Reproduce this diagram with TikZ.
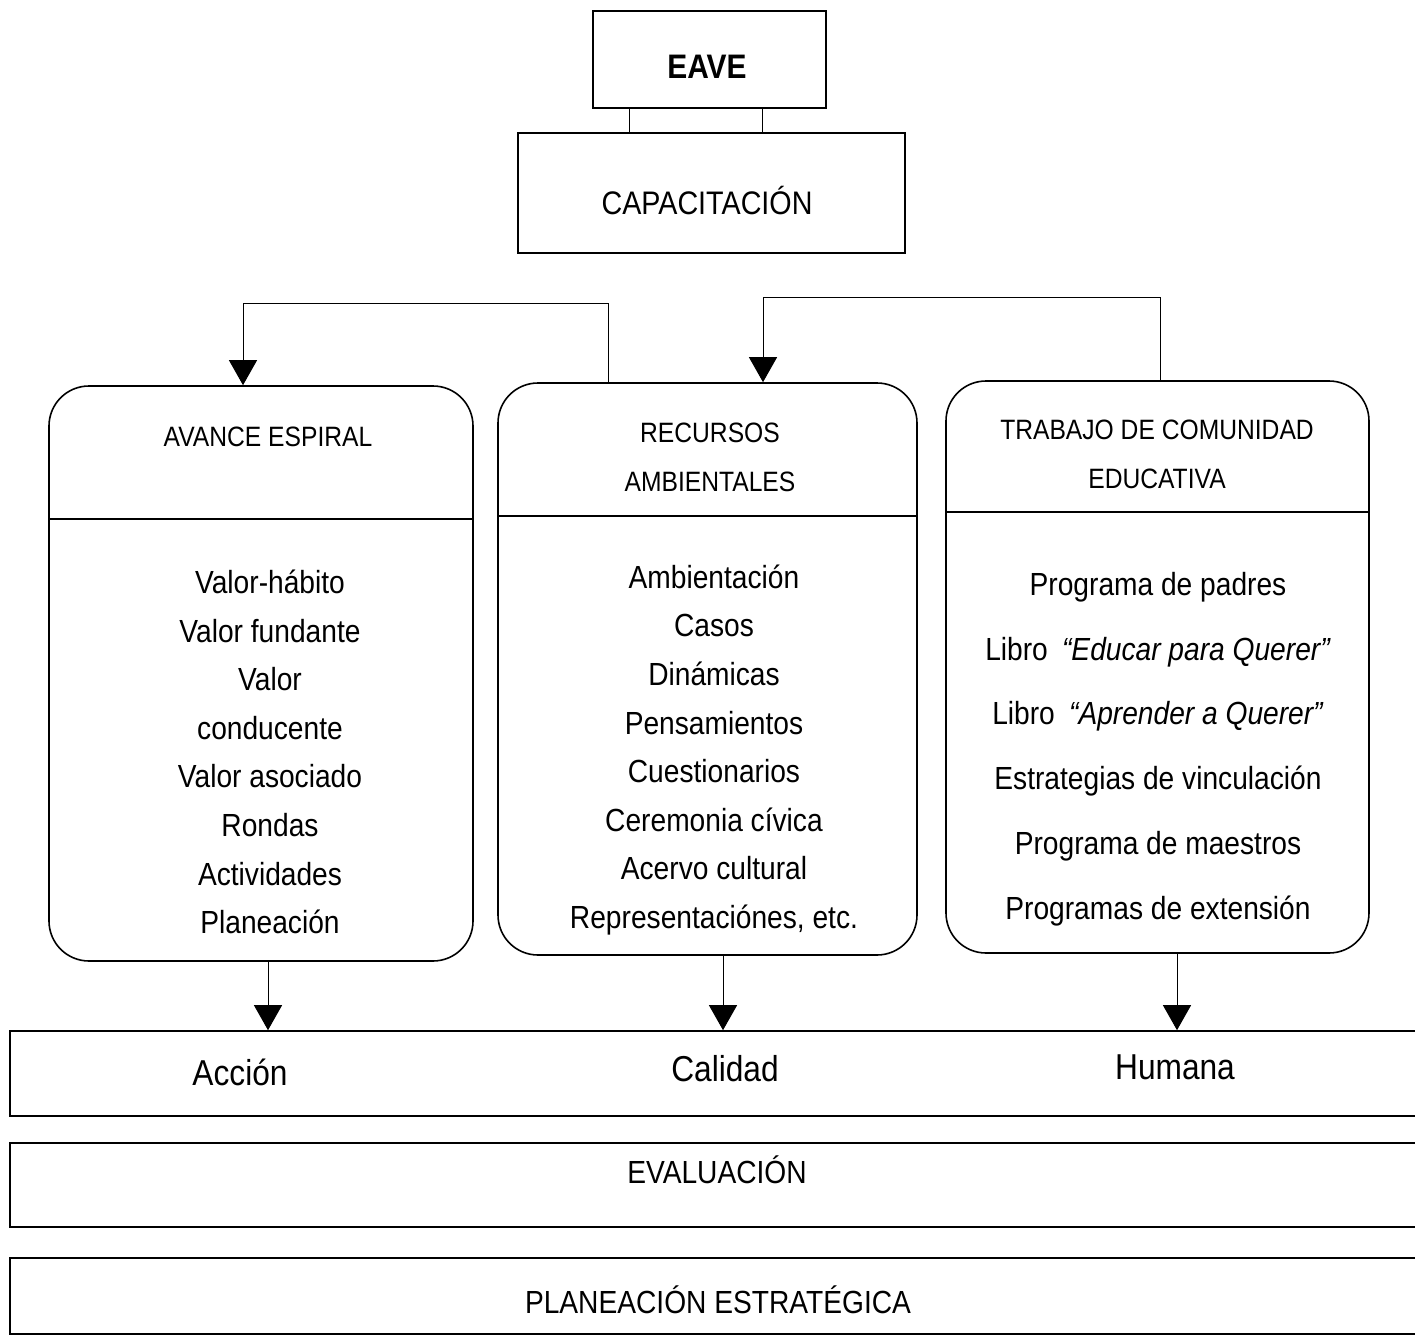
\documentclass[tikz,border=0pt]{standalone}
\usepackage{fontspec}
\setmainfont{Liberation Sans}[FakeStretch=0.88]
\usetikzlibrary{calc,arrows.meta}
\newcommand{\titlefont}{\fontsize{14}{24.5}\selectfont}
\newcommand{\itemfont}{\fontsize{16}{24.3}\selectfont}
\newcommand{\barfont}{\fontsize{18}{20}\selectfont}
\tikzset{
	sqbox/.style={draw, line width=0.6pt, inner sep=0pt},
	rbox/.style={draw, line width=0.8pt, rounded corners=20pt, inner sep=0pt},
	barbox/.style={draw, line width=0.8pt, inner sep=0pt, minimum width=710pt},
	txt/.style={inner sep=1pt, align=center},
	flow/.style={line width=0.5pt, -{Triangle[width=14pt,length=12.5pt]}},
	link/.style={line width=0.5pt}
}

\begin{document}
\begin{tikzpicture}[x=0.5pt,y=-0.5pt]
	\useasboundingbox (0,0) rectangle (1415,1338);
	%%%%% START %%%%%
	
	% top
	\node[sqbox, minimum width=116.5pt, minimum height=48.5pt] (eave) at (709.5,59.5) {};
	\node[txt, font=\bfseries\fontsize{17}{20}\selectfont] (eaveT) at (707,67) {EAVE};
	\node[sqbox, minimum width=193.5pt, minimum height=60pt] (capac) at (711.5,193) {};
	\node[txt, font=\fontsize{16.3}{20}\selectfont] (capacT) at (707,201) {CAPACITACIÓN};
	\draw[link] ([xshift=-40.25pt]eave.south) -- ([xshift=-40.25pt]eave.south |- capac.north);
	\draw[link] ([xshift=26.25pt]eave.south) -- ([xshift=26.25pt]eave.south |- capac.north);
	
	% columns
	\node[rbox, minimum width=212pt, minimum height=287.5pt] (avance) at (261,673.5) {};
	\node[rbox, minimum width=209.5pt, minimum height=286pt] (recursos) at (707.5,669) {};
	\node[rbox, minimum width=211.5pt, minimum height=286pt] (trabajo) at (1157.5,667) {};
	\draw[line width=0.8pt] ($(avance.north west)+(0,134)$) -- ($(avance.north east)+(0,134)$);
	\draw[line width=0.8pt] ($(recursos.north west)+(0,134)$) -- ($(recursos.north east)+(0,134)$);
	\draw[line width=0.8pt] ($(trabajo.north west)+(0,132)$) -- ($(trabajo.north east)+(0,132)$);
	
	\node[txt, font=\titlefont] (avanceT) at (268,437) {AVANCE ESPIRAL};
	\node[txt, font=\titlefont] (recursosT) at (710,457.5) {RECURSOS\\AMBIENTALES};
	\node[txt, font=\titlefont] (trabajoT) at (1157,454) {TRABAJO DE COMUNIDAD\\EDUCATIVA};
	
	\node[txt, font=\itemfont] (avanceL) at (270,752) {Valor-hábito\\Valor fundante\\Valor\\conducente\\Valor asociado\\Rondas\\Actividades\\Planeación};
	\node[txt, font=\itemfont] (recursosL) at (714,750) {Ambientación\\Casos\\Dinámicas\\Pensamientos\\Cuestionarios\\Ceremonia cívica\\Acervo cultural\\Representaciónes, etc.};
	\node[txt, font=\fontsize{16}{32.4}\selectfont] (trabajoL) at (1158,749) {Programa de padres\\Libro\hspace{0.2em} \textit{“Educar para Querer”}\\Libro\hspace{0.2em} \textit{“Aprender a Querer”}\\Estrategias de vinculación\\Programa de maestros\\Programas de extensión};
	
	% feedback arrows on top
	\draw[flow] ([xshift=-49.75pt]recursos.north) -- ++(0,-79) -| ([xshift=-9pt]avance.north);
	\draw[flow] ([xshift=1.25pt]trabajo.north) -- ++(0,-83) -| ([xshift=27.75pt]recursos.north);
	
	% bottom bars
	\node[barbox, minimum height=42.5pt] (accion) at (720,1073.5) {};
	\node[barbox, minimum height=42pt] (evaluac) at (720,1185) {};
	\node[barbox, minimum height=38pt] (planea) at (720,1296) {};
	
	\node[txt, font=\barfont] (accionT) at (240,1072) {Acción};
	\node[txt, font=\barfont] (calidadT) at (725,1069) {Calidad};
	\node[txt, font=\barfont] (humanaT) at (1175,1067) {Humana};
	\node[txt, font=\fontsize{16}{20}\selectfont] (evaluacT) at (717,1170) {EVALUACIÓN};
	\node[txt, font=\fontsize{16}{20}\selectfont] (planeaT) at (718,1300) {PLANEACIÓN ESTRATÉGICA};
	
	\draw[flow] ([xshift=3.5pt]avance.south) -- ([xshift=3.5pt]avance.south |- accion.north);
	\draw[flow] ([xshift=7.75pt]recursos.south) -- ([xshift=7.75pt]recursos.south |- accion.north);
	\draw[flow] ([xshift=9.75pt]trabajo.south) -- ([xshift=9.75pt]trabajo.south |- accion.north);
	
	%%%%% END %%%%%
\end{tikzpicture}
\end{document}
